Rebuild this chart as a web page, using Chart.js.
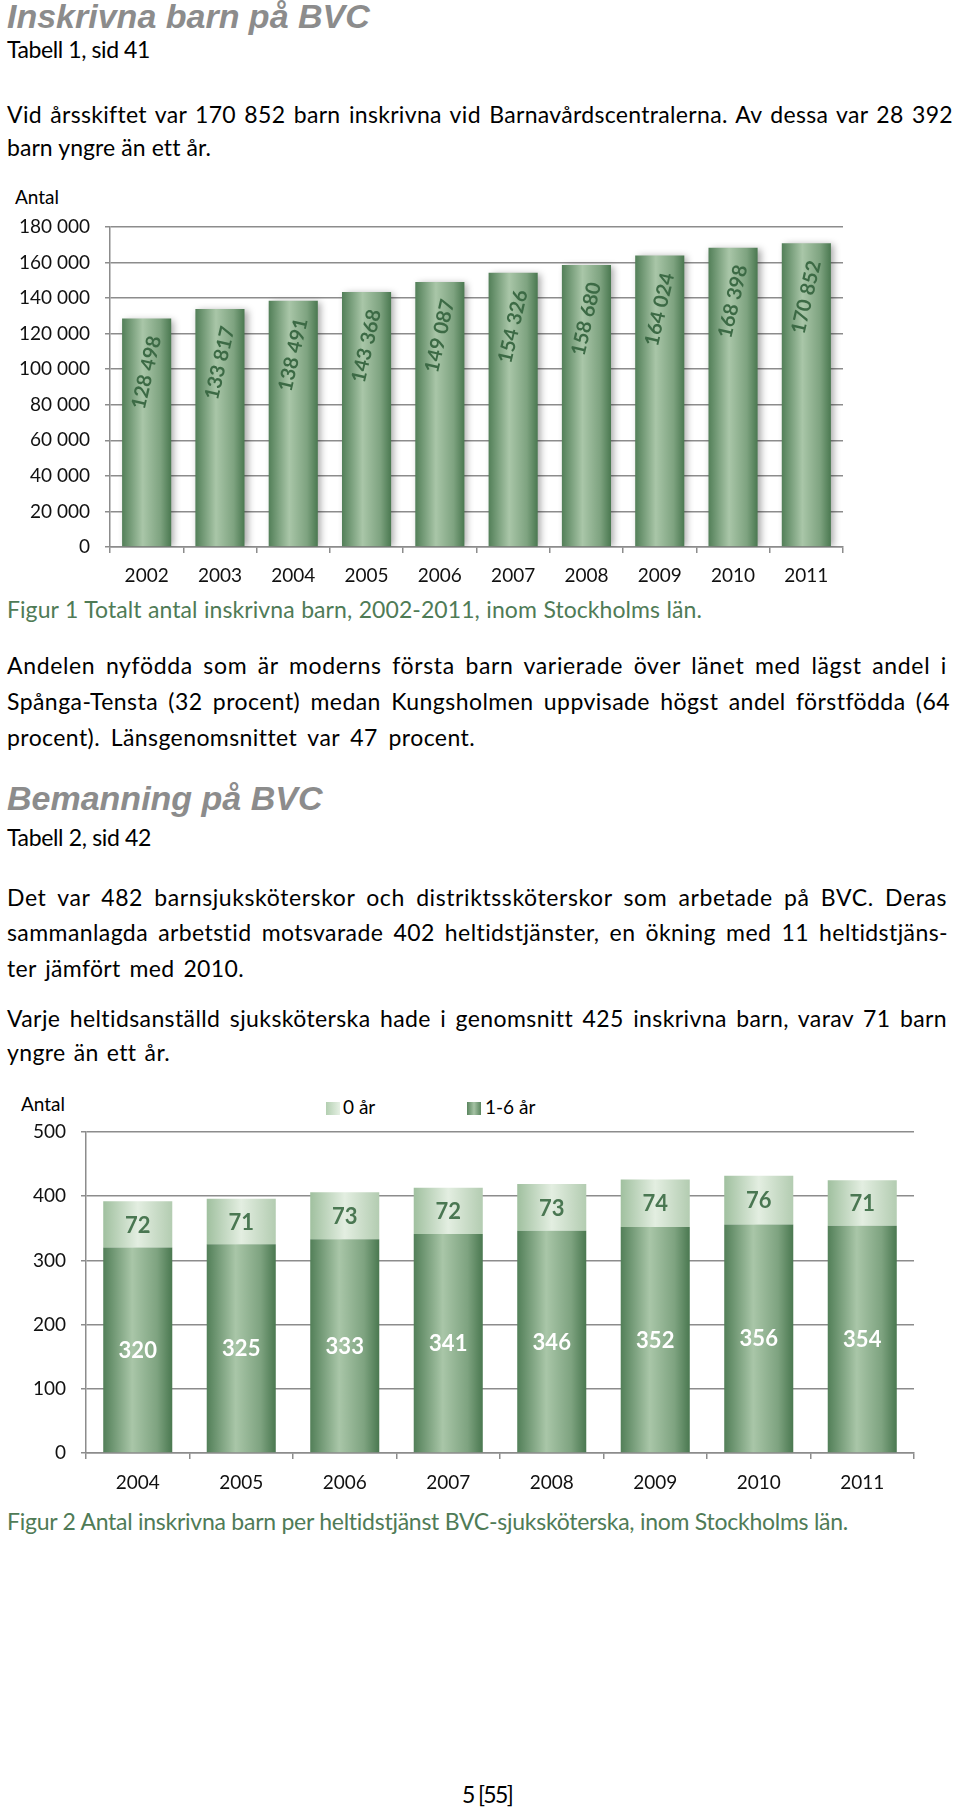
<!DOCTYPE html>
<html>
<head>
<meta charset="utf-8">
<script src="https://cdn.jsdelivr.net/npm/chart.js@4.4.0/dist/chart.umd.min.js"></script>
<style>
body { margin: 0; background: #fff; }
#page { position: relative; width: 960px; height: 1807px; overflow: hidden; font-family: Lato, sans-serif; color: #000; font-variant-ligatures: none; }
.t { position: absolute; left: 7px; white-space: nowrap; font-size: 23px; line-height: 24px; }
.h { position: absolute; left: 7px; white-space: nowrap; font-family: "Liberation Sans", Arial, sans-serif; font-weight: bold; font-style: italic; font-size: 34px; line-height: 34px; color: #8c8c8c; }
.cap { color: #4f7b56; }
.box { position: absolute; width: 14px; height: 13px; }
canvas { position: absolute; left: 0; }
</style>
</head>
<body>
<div id="page">
  <div class="h" style="top:-1px">Inskrivna barn på BVC</div>
  <div class="t" style="top:37px" data-w="143">Tabell 1, sid 41</div>
  <div class="t" style="top:102px" data-w="946">Vid årsskiftet var 170 852 barn inskrivna vid Barnavårdscentralerna. Av dessa var 28 392</div>
  <div class="t" style="top:135px" data-w="204">barn yngre än ett år.</div>
  <div class="t" style="top:185px;left:15px;font-size:19px">Antal</div>
  <canvas id="Chart-0" width="960" height="410" style="top:185px"></canvas>
  <div class="t cap" style="top:597px" data-w="695">Figur 1 Totalt antal inskrivna barn, 2002-2011, inom Stockholms län.</div>

  <div class="t" style="top:653px" data-w="940">Andelen nyfödda som är moderns första barn varierade över länet med lägst andel i</div>
  <div class="t" style="top:689px" data-w="943">Spånga-Tensta (32 procent) medan Kungsholmen uppvisade högst andel förstfödda (64</div>
  <div class="t" style="top:725px" data-w="468">procent). Länsgenomsnittet var 47 procent.</div>

  <div class="h" style="top:781px">Bemanning på BVC</div>
  <div class="t" style="top:825px" data-w="144">Tabell 2, sid 42</div>
  <div class="t" style="top:885px" data-w="940">Det var 482 barnsjuksköterskor och distriktssköterskor som arbetade på BVC. Deras</div>
  <div class="t" style="top:920px" data-w="941">sammanlagda arbetstid motsvarade 402 heltidstjänster, en ökning med 11 heltidstjäns-</div>
  <div class="t" style="top:956px" data-w="237">ter jämfört med 2010.</div>
  <div class="t" style="top:1006px" data-w="940">Varje heltidsanställd sjuksköterska hade i genomsnitt 425 inskrivna barn, varav 71 barn</div>
  <div class="t" style="top:1040px" data-w="163">yngre än ett år.</div>

  <div class="t" style="top:1092px;left:21px;font-size:19px">Antal</div>
  <div class="box" style="left:326px;top:1102px;background:linear-gradient(90deg,#b3cfb1,#e6f0e4)"></div>
  <div class="t" style="top:1095px;left:343px;font-size:19px">0 år</div>
  <div class="box" style="left:467px;top:1102px;background:linear-gradient(90deg,#5a855e,#a5c2a4,#5a855e)"></div>
  <div class="t" style="top:1095px;left:485px;font-size:19px">1-6 år</div>
  <canvas id="Chart-1" width="960" height="420" style="top:1085px"></canvas>
  <div class="t cap" style="top:1509px" data-w="841">Figur 2 Antal inskrivna barn per heltidstjänst BVC-sjuksköterska, inom Stockholms län.</div>

  <div class="t" style="top:1782px;left:462px" data-w="50">5 [55]</div>
</div>

<script>
// Figur 1
var years_1 = ['2002','2003','2004','2005','2006','2007','2008','2009','2010','2011']
var total_children = [128498, 133817, 138491, 143368, 149087, 154326, 158680, 164024, 168398, 170852]
var y_ticks_1 = {min: 0, max: 180000, step: 20000}

// Figur 2
var years_2 = ['2004','2005','2006','2007','2008','2009','2010','2011']
var age_0 = [72, 71, 73, 72, 73, 74, 76, 71]
var age_1_6 = [320, 325, 333, 341, 346, 352, 356, 354]
var y_ticks_2 = {min: 0, max: 500, step: 100}

var grey = '#8c8c8c'
var dark_stops = [[0,'#527f58'],[0.42,'#a9c6a8'],[0.78,'#7ea380'],[1,'#4a7850']]
var light_stops = [[0,'#a0c09f'],[0.5,'#e3eee1'],[1,'#b3ccb1']]

// text lines: share the missing width between letters and word gaps
document.querySelectorAll('[data-w]').forEach(function(el){
    el.style.letterSpacing = '0px'
    el.style.wordSpacing = '0px'
    var w = el.getBoundingClientRect().width
    var txt = el.textContent
    var gaps = (txt.match(/ /g) || []).length
    var extra = +el.dataset.w - w
    if (gaps > 0 && extra > 0) {
        el.style.wordSpacing = (extra * 0.5 / gaps) + 'px'
        extra = extra * 0.5
    }
    el.style.letterSpacing = (extra / txt.length) + 'px'
})

function fmt(v){
    return String(v).replace(/\B(?=(\d{3})+(?!\d))/g, ' ')
}

// horizontal gradient across each bar
function bar_gradient(stops, pct){
    return function(ctx){
        var chart = ctx.chart
        var xs = chart.scales.x
        if (ctx.type !== 'data' || !xs || !chart.chartArea) return stops[1][1]
        var cx = xs.getPixelForValue(ctx.dataIndex)
        var half = xs.width / chart.data.labels.length * pct / 2
        var g = chart.ctx.createLinearGradient(cx - half, 0, cx + half, 0)
        stops.forEach(function(s){ g.addColorStop(s[0], s[1]) })
        return g
    }
}

var shadow_plugin = {
    id: 'barShadow',
    beforeDatasetsDraw: function(chart){
        var c = chart.ctx
        c.save()
        c.shadowColor = 'rgba(0,0,0,0.35)'
        c.shadowBlur = 7
        c.shadowOffsetX = 3
        c.shadowOffsetY = 1
    },
    afterDatasetsDraw: function(chart){
        chart.ctx.restore()
    }
}

var label_plugin = {
    id: 'barLabels',
    afterDraw: function(chart){
        var c = chart.ctx
        chart.data.datasets.forEach(function(ds, di){
            var st = ds.labelStyle
            if (!st) return
            var meta = chart.getDatasetMeta(di)
            meta.data.forEach(function(bar, i){
                var y = st.top ? bar.y + st.top : (bar.y + bar.base) / 2 + (st.dy || 0)
                c.save()
                c.translate(bar.x, y)
                c.rotate(st.rotate || 0)
                c.font = st.font
                c.fillStyle = st.color
                c.textAlign = 'center'
                c.textBaseline = 'middle'
                c.fillText(fmt(ds.data[i]), 0, 0)
                c.restore()
            })
        })
    }
}

function axis_x(h, pad){
    return {
        grid: {display: true, drawOnChartArea: false, drawTicks: true, tickLength: 6, color: grey, lineWidth: 1.5, offset: true},
        border: {display: true, color: grey, width: 1.5},
        ticks: {color: '#111', padding: pad, font: {family: 'Lato', size: 19}},
        afterFit: function(s){ s.height = h }
    }
}

function axis_y(w, t, cb){
    return {
        min: t.min, max: t.max,
        grid: {color: grey, lineWidth: 1.5, tickLength: 5, drawTicks: true},
        border: {display: true, color: grey, width: 1.5},
        ticks: {stepSize: t.step, color: '#111', padding: 15, font: {family: 'Lato', size: 19}, callback: cb},
        afterFit: function(s){ s.width = w }
    }
}

function draw_chart_total(){
    var ctx = document.getElementById('Chart-0').getContext('2d')
    new Chart(ctx, {
        type: 'bar',
        data: {
            labels: years_1,
            datasets: [{
                label: 'Antal',
                data: total_children,
                backgroundColor: bar_gradient(dark_stops, 0.67),
                barPercentage: 0.67,
                categoryPercentage: 1,
                labelStyle: {top: 54, rotate: -77 * Math.PI / 180, font: 'bold 20px Lato', color: '#3c6a45'}
            }]
        },
        options: {
            responsive: false,
            animation: false,
            layout: {padding: {top: 42, right: 117, left: 0, bottom: 0}},
            plugins: {legend: {display: false}, tooltip: {enabled: false}},
            scales: {
                x: axis_x(48, 11),
                y: axis_y(110, y_ticks_1, function(v){ return fmt(v) })
            }
        },
        plugins: [shadow_plugin, label_plugin]
    })
}

function draw_chart_fte(){
    var ctx = document.getElementById('Chart-1').getContext('2d')
    var x = axis_x(52, 12)
    x.stacked = true
    var y = axis_y(86, y_ticks_2)
    y.stacked = true
    new Chart(ctx, {
        type: 'bar',
        data: {
            labels: years_2,
            datasets: [{
                label: '1-6 år',
                data: age_1_6,
                backgroundColor: bar_gradient(dark_stops, 0.667),
                barPercentage: 0.667,
                categoryPercentage: 1,
                labelStyle: {font: 'bold 22px Lato', color: '#ffffff', dy: 1}
            }, {
                label: '0 år',
                data: age_0,
                backgroundColor: bar_gradient(light_stops, 0.667),
                barPercentage: 0.667,
                categoryPercentage: 1,
                labelStyle: {font: 'bold 22px Lato', color: '#4a7752', dy: 1}
            }]
        },
        options: {
            responsive: false,
            animation: false,
            layout: {padding: {top: 47, right: 46, left: 0, bottom: 0}},
            plugins: {legend: {display: false}, tooltip: {enabled: false}},
            scales: {x: x, y: y}
        },
        plugins: [label_plugin]
    })
}

draw_chart_total()
draw_chart_fte()
</script>
</body>
</html>
